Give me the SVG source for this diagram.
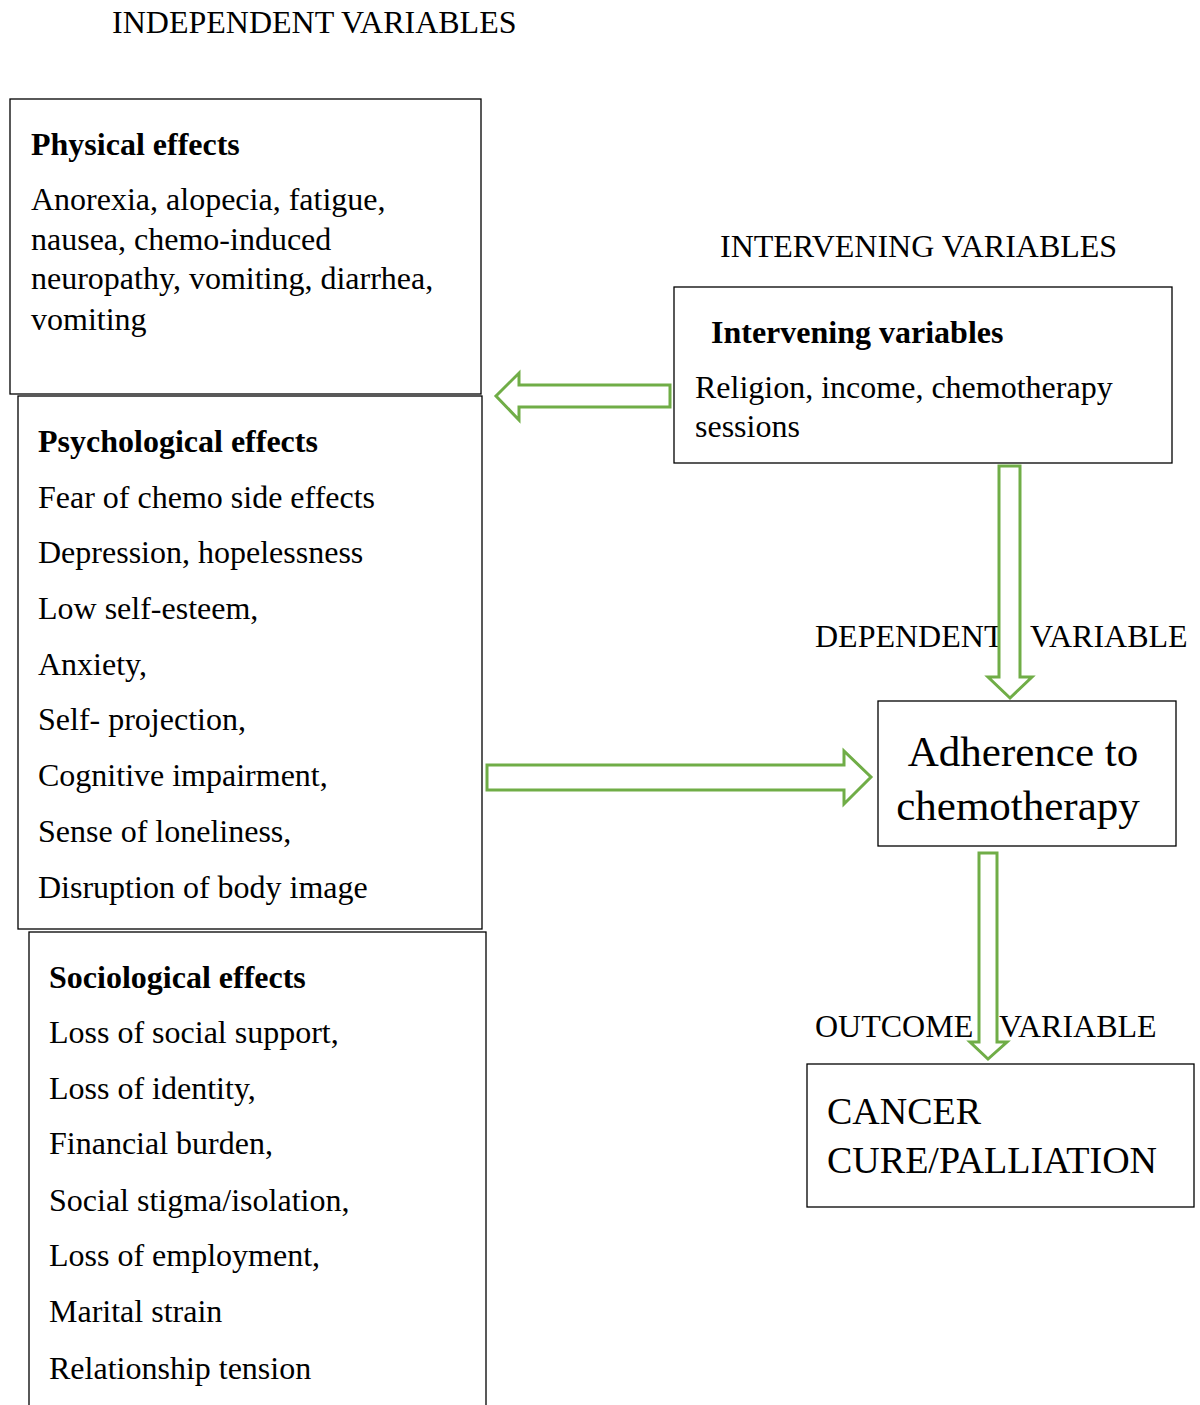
<svg xmlns="http://www.w3.org/2000/svg" width="1200" height="1405" viewBox="0 0 1200 1405">
<style>
text{font-family:"Liberation Serif","Times New Roman",serif;font-size:32px;fill:#000}
.b{font-weight:bold}
.box{fill:#fff;stroke:#000;stroke-width:1.3}
.arr{fill:#fff;stroke:#70AD47;stroke-width:3;stroke-linejoin:miter}
.big{font-size:43px}
.mid{font-size:38px}
</style>
<rect width="1200" height="1405" fill="#fff"/>
<text x="112" y="33">INDEPENDENT VARIABLES</text>
<text x="720" y="257">INTERVENING VARIABLES</text>
<g id="physical">
<rect class="box" x="10" y="99" width="471" height="295"/>
<text class="b" x="31" y="155">Physical effects</text>
<text x="31" y="210">Anorexia, alopecia, fatigue,</text>
<text x="31" y="250">nausea, chemo-induced</text>
<text x="31" y="289">neuropathy, vomiting, diarrhea,</text>
<text x="31" y="330">vomiting</text>
</g>
<g id="psychological">
<rect class="box" x="18" y="396" width="464" height="533"/>
<text class="b" x="38" y="452">Psychological effects</text>
<text x="38" y="508">Fear of chemo side effects</text>
<text x="38" y="563">Depression, hopelessness</text>
<text x="38" y="619">Low self-esteem,</text>
<text x="38" y="675">Anxiety,</text>
<text x="38" y="730">Self- projection,</text>
<text x="38" y="786">Cognitive impairment,</text>
<text x="38" y="842">Sense of loneliness,</text>
<text x="38" y="898">Disruption of body image</text>
</g>
<g id="sociological">
<rect class="box" x="29" y="932" width="457" height="500"/>
<text class="b" x="49" y="988">Sociological effects</text>
<text x="49" y="1043">Loss of social support,</text>
<text x="49" y="1099">Loss of identity,</text>
<text x="49" y="1154">Financial burden,</text>
<text x="49" y="1211">Social stigma/isolation,</text>
<text x="49" y="1266">Loss of employment,</text>
<text x="49" y="1322">Marital strain</text>
<text x="49" y="1379">Relationship tension</text>
</g>
<g id="intervening">
<rect class="box" x="674" y="287" width="498" height="176"/>
<text class="b" x="711" y="343">Intervening variables</text>
<text x="695" y="398">Religion, income, chemotherapy</text>
<text x="695" y="437">sessions</text>
</g>
<text x="815" y="647">DEPENDENT</text>
<text x="1030" y="647">VARIABLE</text>
<g id="adherence">
<rect class="box" x="878" y="701" width="298" height="145"/>
<text class="big" x="1023" y="766" text-anchor="middle">Adherence to</text>
<text class="big" x="1018" y="820" text-anchor="middle">chemotherapy</text>
</g>
<text x="815" y="1037">OUTCOME</text>
<text x="999" y="1037">VARIABLE</text>
<g id="cancer">
<rect class="box" x="807" y="1064" width="387" height="143"/>
<text class="mid" x="827" y="1124">CANCER</text>
<text class="mid" x="827" y="1173">CURE/PALLIATION</text>
</g>
<g id="connectors">
<polygon class="arr" points="670,385 519,385 519,373 496,396 519,420 519,407 670,407"/>
<polygon class="arr" points="999,466 1020,466 1020,677 1032,677 1010,698 988,677 999,677"/>
<polygon class="arr" points="487,765 844,765 844,751 871,777 844,804 844,790 487,790"/>
<polygon class="arr" points="979,853 997,853 997,1042 1007,1042 988,1059 970,1042 979,1042"/>
</g>
</svg>
